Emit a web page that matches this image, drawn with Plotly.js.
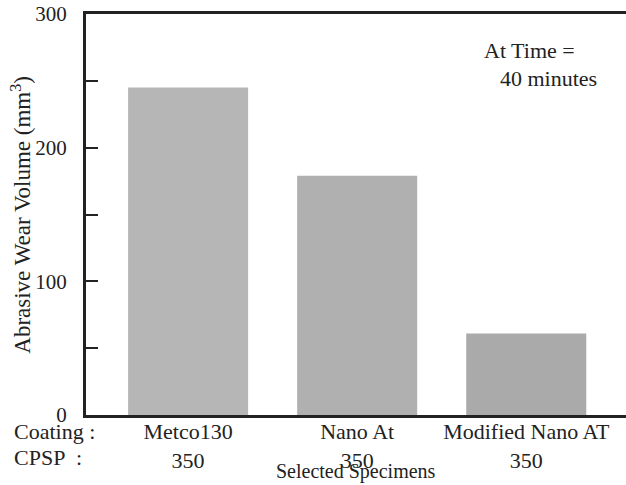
<!DOCTYPE html>
<html>
<head>
<meta charset="utf-8">
<script src="https://cdn.plot.ly/plotly-3.0.1.min.js"></script>
<style>html,body{margin:0;padding:0;background:#fff;}</style>
</head>
<body>
<div id="chart" style="width:626px;height:485px;"></div>
<script>
const coatings = ["Metco130", "Nano At", "Modified Nano AT"];
const cpsp = ["350", "350", "350"];
const wearVolume = [245, 179, 61];
const barColors = ["#b6b6b6", "#b0b0b0", "#aaaaaa"];
const yTitle = "Abrasive Wear Volume (mm<sup>3</sup>)";
const xTitle = "Selected Specimens";

const positions = coatings.map((c, i) => i);
const tickText = coatings.map((c, i) => c + "<br>" + cpsp[i]);

const FONT = "Liberation Serif";
const INK = "#222";

const trace = {
  type: "bar",
  x: positions,
  y: wearVolume,
  width: 0.71,
  marker: { color: barColors, line: { width: 0 } },
  hoverinfo: "skip"
};

function ann(text, x, y, xanchor, size, extra) {
  return Object.assign({ text: text, xref: "paper", yref: "paper", x: x, y: y, xanchor: xanchor, yanchor: "middle",
    showarrow: false, font: { family: FONT, size: size, color: INK } }, extra || {});
}

const layout = {
  width: 626, height: 485,
  margin: { l: 86, r: 0, t: 14, b: 70, pad: 0 },
  paper_bgcolor: "#fff", plot_bgcolor: "#fff",
  showlegend: false,
  font: { family: FONT, size: 22, color: INK },
  xaxis: {
    range: [-0.604, 2.59],
    tickmode: "array", tickvals: positions, ticktext: tickText,
    ticks: "", showgrid: false, zeroline: false,
    showline: true, linewidth: 3, linecolor: INK, mirror: true,
    ticklabelstandoff: -5,
    tickfont: { family: FONT, size: 22, color: INK },
    automargin: false
  },
  yaxis: {
    range: [0, 300],
    tickmode: "linear", tick0: 0, dtick: 100,
    ticks: "inside", ticklen: 12, tickwidth: 2, tickcolor: INK,
    minor: { dtick: 50, ticks: "inside", ticklen: 12, tickwidth: 2, tickcolor: INK },
    showgrid: false, zeroline: false,
    showline: true, linewidth: 3, linecolor: INK,
    ticklabelstandoff: 12,
    tickfont: { family: FONT, size: 21, color: INK },
    automargin: false
  },
  annotations: [
    ann(yTitle, -0.12, 0.5, "center", 23, { textangle: -90 }),
    ann(xTitle, 0.5, -0.141, "center", 20),
    ann("At Time =", 0.733, 0.908, "left", 22),
    ann("40 minutes", 0.763, 0.840, "left", 22),
    ann("Coating :", -0.137, -0.042, "left", 22),
    ann("CPSP", -0.137, -0.107, "left", 22),
    ann(":", -0.013, -0.107, "center", 22)
  ]
};

Plotly.newPlot("chart", [trace], layout, { staticPlot: true, displayModeBar: false });
</script>
</body>
</html>
